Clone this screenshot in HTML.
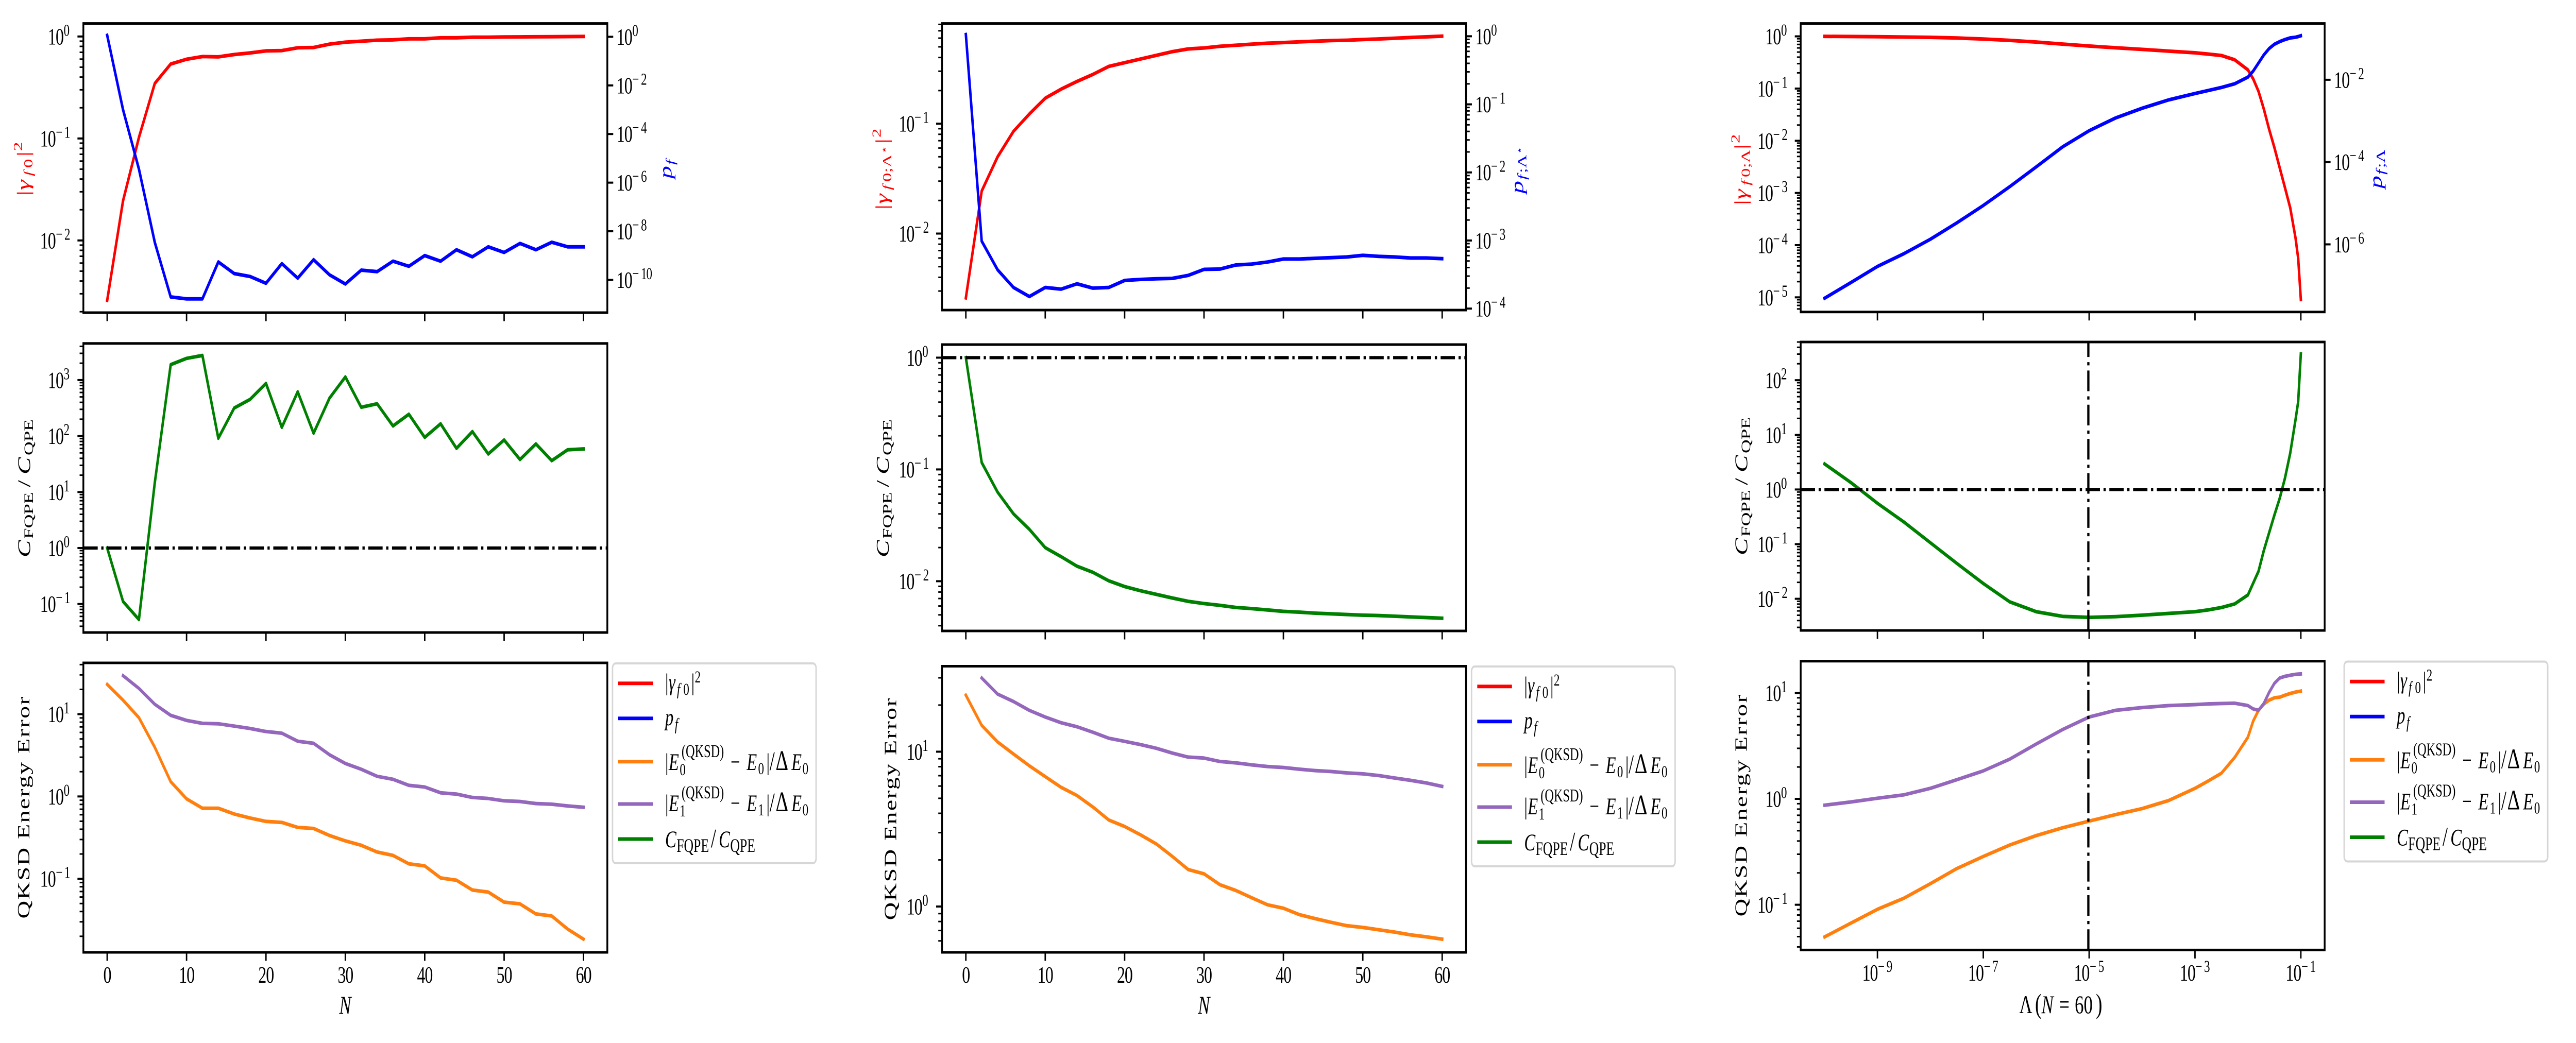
<!DOCTYPE html>
<html lang="en">
<head>
<meta charset="utf-8">
<title>FQPE and QKSD comparison</title>
<style>
html,body{margin:0;padding:0;background:#fff;width:100%;height:100%;overflow:hidden;}
svg{display:block;width:100vw;height:100vh;font-family:"Liberation Serif","DejaVu Serif",serif;}
</style>
</head>
<body>
<svg id="figure" viewBox="0 0 7200 2025" preserveAspectRatio="none"></svg>
<script>
const nValues = [0,2,4,6,8,10,12,14,16,18,20,22,24,26,28,30,32,34,36,38,40,42,44,46,48,50,52,54,56,58,60];
const nTicks = [0,10,20,30,40,50,60];
const lambdaLog10 = [-10,-9.5,-9,-8.5,-8,-7.5,-7,-6.5,-6,-5.5,-5,-4.5,-4,-3.5,-3,-2.75,-2.5,-2.25,-2,-1.9,-1.8,-1.7,-1.6,-1.5,-1.4,-1.3,-1.2,-1.1,-1.05,-1];
const lambdaTicks = [-9,-7,-5,-3,-1];
const lambdaStarLog10 = -5.015;
const unitRatioLog10 = 0;

/* Column 1 */
const c1Overlap = [-2.587,-1.611,-0.99,-0.46,-0.27,-0.223,-0.197,-0.2,-0.177,-0.161,-0.141,-0.138,-0.111,-0.108,-0.075,-0.056,-0.046,-0.036,-0.033,-0.023,-0.023,-0.013,-0.013,-0.007,-0.007,-0.005,-0.004,-0.003,-0.002,-0.001,0];
const c1Prob = [0.06,-3.0,-5.44,-8.46,-10.7,-10.78,-10.78,-9.26,-9.74,-9.86,-10.14,-9.33,-9.93,-9.17,-9.79,-10.17,-9.6,-9.66,-9.23,-9.44,-9.0,-9.23,-8.76,-9.05,-8.64,-8.87,-8.5,-8.76,-8.45,-8.64,-8.64];
const c1Ratio = [0,-0.954,-1.278,1.17,3.275,3.387,3.44,1.96,2.5,2.655,2.94,2.155,2.79,2.05,2.676,3.056,2.514,2.577,2.18,2.39,1.976,2.22,1.78,2.08,1.68,1.93,1.58,1.86,1.56,1.755,1.77];
const c1ErrE0 = [1.362,1.17,0.957,0.597,0.18,-0.029,-0.143,-0.143,-0.213,-0.262,-0.303,-0.315,-0.376,-0.389,-0.474,-0.54,-0.593,-0.675,-0.716,-0.818,-0.843,-0.99,-1.018,-1.137,-1.162,-1.284,-1.305,-1.427,-1.452,-1.611,-1.734];
const c1ErrE1 = [null,1.468,1.313,1.12,0.986,0.924,0.888,0.883,0.855,0.826,0.789,0.769,0.671,0.646,0.507,0.401,0.331,0.245,0.209,0.135,0.115,0.045,0.029,-0.012,-0.025,-0.053,-0.061,-0.086,-0.094,-0.115,-0.131];
const c1OverlapTicks = [0,-1,-2];
const c1ProbTicks = [0,-2,-4,-6,-8,-10];
const c1RatioTicks = [3,2,1,0,-1];
const c1ErrTicks = [1,0,-1];

/* Column 2 */
const c2Overlap = [-2.585,-1.613,-1.302,-1.07,-0.912,-0.768,-0.686,-0.616,-0.552,-0.479,-0.445,-0.412,-0.378,-0.345,-0.32,-0.311,-0.296,-0.287,-0.277,-0.268,-0.262,-0.256,-0.25,-0.244,-0.241,-0.235,-0.229,-0.223,-0.216,-0.21,-0.204];
const c2Prob = [0.025,-3.01,-3.43,-3.69,-3.823,-3.69,-3.715,-3.636,-3.7,-3.69,-3.587,-3.572,-3.562,-3.557,-3.513,-3.424,-3.42,-3.36,-3.346,-3.316,-3.272,-3.272,-3.262,-3.252,-3.242,-3.218,-3.233,-3.242,-3.257,-3.257,-3.267];
const c2Ratio = [0,-0.938,-1.203,-1.397,-1.536,-1.7,-1.78,-1.866,-1.92,-1.996,-2.048,-2.085,-2.118,-2.15,-2.18,-2.2,-2.216,-2.235,-2.245,-2.257,-2.27,-2.277,-2.286,-2.292,-2.298,-2.304,-2.307,-2.313,-2.319,-2.325,-2.331];
const c2ErrE0 = [1.365,1.17,1.063,0.985,0.909,0.839,0.77,0.717,0.643,0.559,0.517,0.463,0.404,0.324,0.239,0.211,0.141,0.104,0.057,0.011,-0.011,-0.052,-0.078,-0.102,-0.124,-0.135,-0.15,-0.165,-0.183,-0.196,-0.211];
const c2ErrE1 = [null,1.476,1.372,1.324,1.267,1.224,1.187,1.161,1.126,1.087,1.067,1.046,1.022,0.991,0.965,0.959,0.937,0.928,0.915,0.904,0.898,0.887,0.878,0.872,0.863,0.857,0.846,0.83,0.815,0.798,0.776];
const c2OverlapTicks = [-1,-2];
const c2ProbTicks = [0,-1,-2,-3,-4];
const c2RatioTicks = [0,-1,-2];
const c2ErrTicks = [1,0];

/* Column 3 */
const c3Overlap = [0,-0.003,-0.006,-0.013,-0.019,-0.032,-0.051,-0.077,-0.109,-0.148,-0.186,-0.218,-0.25,-0.282,-0.315,-0.34,-0.366,-0.449,-0.642,-0.815,-1.053,-1.39,-1.778,-2.13,-2.516,-2.9,-3.286,-3.864,-4.25,-5.04];
const c3Prob = [-7.31,-6.927,-6.536,-6.226,-5.876,-5.477,-5.054,-4.598,-4.117,-3.629,-3.238,-2.928,-2.692,-2.489,-2.334,-2.26,-2.187,-2.098,-1.935,-1.788,-1.593,-1.397,-1.241,-1.137,-1.072,-1.023,-0.982,-0.966,-0.95,-0.93];
const c3Ratio = [0.469,0.126,-0.252,-0.595,-0.974,-1.352,-1.72,-2.056,-2.236,-2.322,-2.34,-2.326,-2.3,-2.268,-2.236,-2.203,-2.16,-2.095,-1.93,-1.713,-1.497,-1.118,-0.793,-0.469,-0.162,0.209,0.667,1.28,1.605,2.481];
const c3ErrE0 = [-1.304,-1.173,-1.043,-0.938,-0.801,-0.658,-0.544,-0.436,-0.347,-0.273,-0.21,-0.149,-0.092,-0.016,0.099,0.169,0.242,0.391,0.582,0.735,0.836,0.894,0.932,0.954,0.96,0.979,0.995,1.008,1.013,1.017];
const c3ErrE1 = [-0.06,-0.029,0.006,0.038,0.099,0.181,0.264,0.375,0.518,0.655,0.773,0.836,0.862,0.881,0.89,0.897,0.9,0.903,0.881,0.849,0.836,0.9,1.005,1.091,1.141,1.157,1.167,1.176,1.178,1.18];
const c3OverlapTicks = [0,-1,-2,-3,-4,-5];
const c3ProbTicks = [-2,-4,-6];
const c3RatioTicks = [2,1,0,-1,-2];
const c3ErrTicks = [1,0,-1];

const RED = '#ff0000', BLUE = '#0000ff', GREEN = '#008000', ORANGE = '#ff7f0e', PURPLE = '#9467bd';
const root = document.getElementById('figure');
const ns = root.namespaceURI;

function node(parent, tag, attrs, name) {
  const el = document.createElementNS(ns, tag);
  for (const k in attrs) el.setAttribute(k, attrs[k]);
  
  
  parent.appendChild(el);
  return el;
}
function linearScale(d0, d1, r0, r1) {
  return v => r0 + (v - d0) / (d1 - d0) * (r1 - r0);
}
function mathText(parent, name, tx, ty, rotated, color, parts) {
  const t = node(parent, 'text', {
    transform: 'translate(' + tx + ' ' + ty + ')' + (rotated ? ' rotate(-90)' : ''),
    fill: color
  }, name);
  for (const p of parts) {
    const sp = document.createElementNS(ns, 'tspan');
    sp.setAttribute('x', p[1]);
    sp.setAttribute('y', p[2]);
    sp.setAttribute('font-size', p[3]);
    if (p[4]) sp.setAttribute('font-style', 'italic');
    sp.textContent = p[0];
    t.appendChild(sp);
  }
  return t;
}
function powerLabel(parent, name, x, baseline, exp, mode) {
  const expStr = String(Math.abs(exp));
  const supW = exp < 0 ? (expStr.length > 1 ? 59 : 42) : 20;
  const total = 43 + supW;
  const start = mode === 'right' ? x - total : mode === 'center' ? x - total / 2 : x;
  const parts = [['10', 0, 0, 46]];
  if (exp < 0) {
    parts.push(['\u2212', 44, -17, 33]);
    parts.push([expStr, 68, -17, 33]);
  } else {
    parts.push([expStr, 44, -17, 33]);
  }
  const t = mathText(parent, name, start, baseline, false, '#000', parts);
  t.setAttribute('letter-spacing', '-1.5');
  return t;
}
function drawSeries(g, xs, ys, xf, yf, color, name) {
  const pts = [];
  xs.forEach((x, i) => { if (ys[i] !== null) pts.push(xf(x).toFixed(1) + ',' + yf(ys[i]).toFixed(1)); });
  return node(g, 'polyline', {
    points: pts.join(' '), fill: 'none', stroke: color, 'stroke-width': 7,
    'stroke-linejoin': 'round', 'stroke-linecap': 'square'
  }, name);
}
function dashLine(g, x1, y1, x2, y2, name) {
  return node(g, 'line', {
    x1: x1, y1: y1, x2: x2, y2: y2, stroke: '#000', 'stroke-width': 6.26,
    'stroke-dasharray': '40.1 10 6.26 10'
  }, name);
}
function yAxis(g, box, ylim, ticks, side, minor, prefix) {
  const yf = linearScale(ylim[0], ylim[1], box.bottom, box.top);
  const x0 = side === 'left' ? box.L : box.R;
  const dir = side === 'left' ? -1 : 1;
  if (minor) {
    for (let d = Math.floor(ylim[0]); d < Math.ceil(ylim[1]); d++) {
      for (let m = 2; m <= 9; m++) {
        const v = d + Math.log10(m);
        if (v < ylim[0] || v > ylim[1]) continue;
        node(g, 'line', { x1: x0, x2: x0 + dir * 10.5, y1: yf(v), y2: yf(v), stroke: '#000', 'stroke-width': 3 }, prefix + '-minor-tick');
      }
    }
  }
  ticks.forEach(e => {
    node(g, 'line', { x1: x0, x2: x0 + dir * 16.5, y1: yf(e), y2: yf(e), stroke: '#000', 'stroke-width': 4 }, prefix + '-major-tick');
    if (side === 'left') powerLabel(g, prefix + '-tick-label', box.L - 36, yf(e) + 15.5, e, 'right');
    else powerLabel(g, prefix + '-tick-label', box.R + 26, yf(e) + 15.5, e, 'left');
  });
  return yf;
}
function xAxis(g, box, xf, ticks, labelMode, prefix) {
  ticks.forEach(v => {
    const x = xf(v);
    node(g, 'line', { x1: x, x2: x, y1: box.bottom, y2: box.bottom + 16.5, stroke: '#000', 'stroke-width': 4 }, prefix + '-x-major-tick');
    if (labelMode === 'linear') {
      node(g, 'text', { x: x, y: 1908, 'font-size': 46, 'text-anchor': 'middle', 'letter-spacing': '-1.5', fill: '#000' }, prefix + '-x-tick-label').textContent = String(v);
    } else if (labelMode === 'log') {
      powerLabel(g, prefix + '-x-tick-label', x, 1904, v, 'center');
    }
  });
}
function frame(g, box, name) {
  node(g, 'rect', { x: box.L, y: box.top, width: box.R - box.L, height: box.bottom - box.top, fill: 'none', stroke: '#000', 'stroke-width': 5 }, name);
}

const GAMMA_F0 = [['|',0,0,50],['\u03b3',11,0,50,1],['f',38,9,35,1],['0',54,9,35],['|',76,0,50],['2',87,-20,35]];
const GAMMA_STAR = [['|',0,0,50],['\u03b3',11,0,50,1],['f',38,9,35,1],['0',54,9,35],[';',72,9,35],['\u039b',82,9,35],['\u22c6',108,-2,26],['|',128,0,50],['2',140,-20,35]];
const GAMMA_LAM = [['|',0,0,50],['\u03b3',11,0,50,1],['f',38,9,35,1],['0',54,9,35],[';',72,9,35],['\u039b',82,9,35],['|',108,0,50],['2',120,-20,35]];
const P_F = [['p',0,0,50,1],['f',27,9,35,1]];
const P_STAR = [['p',0,0,50,1],['f',27,9,35,1],[';',40,9,35],['\u039b',50,9,35],['\u22c6',76,-2,26]];
const P_LAM = [['p',0,0,50,1],['f',27,9,35,1],[';',40,9,35],['\u039b',50,9,35]];
const RATIO = [['C',0,0,50,1],['FQPE',36,8,37],['/',136,0,50],['C',161,0,50,1],['QPE',198,8,37]];

function legend(x, y, prefix) {
  const g = node(root, 'g', { transform: 'translate(' + x + ' ' + y + ')' }, prefix + '-legend');
  node(g, 'rect', { x: 2, y: 2, width: 569, height: 388, rx: 9, fill: '#fff', stroke: '#d6d6d6', 'stroke-width': 4 }, 'legend-frame');
  const rows = [
    [RED, 40.7, 54, 'overlap', [['|',0,0,47],['\u03b3',10,0,47,1],['f',33,9,33,1],['0',51,9,33],['|',73,0,47],['2',83,-15,33]]],
    [BLUE, 108.7, 122, 'probability', [['p',0,0,47,1],['f',27,9,33,1]]],
    [ORANGE, 192.7, 209, 'e0-error', [['|',0,0,47],['E',10,0,47,1],['(QKSD)',46,-25,35],['0',41,10,33],['\u2212',183,0,47],['E',228,0,47,1],['0',260,8,33],['|',283,0,47],['/',292,0,52],['\u0394',309,0,55],['E',353,0,47,1],['0',384,8,33]]],
    [PURPLE, 275, 289, 'e1-error', [['|',0,0,47],['E',10,0,47,1],['(QKSD)',46,-25,35],['1',41,10,33],['\u2212',183,0,47],['E',228,0,47,1],['1',260,8,33],['|',283,0,47],['/',292,0,52],['\u0394',309,0,55],['E',353,0,47,1],['0',384,8,33]]],
    [GREEN, 343, 359, 'cost-ratio', [['C',0,0,47,1],['FQPE',32,9,37],['/',128,0,52],['C',150,0,47,1],['QPE',182,9,37]]]
  ];
  rows.forEach(r => {
    node(g, 'line', { x1: 18, x2: 115, y1: r[1], y2: r[1], stroke: r[0], 'stroke-width': 7 }, r[3] + '-legend-handle');
    mathText(g, r[3] + '-legend-label', 149, r[2], false, '#000', r[4]);
  });
}

/* Column layouts */
const L1 = 233, R1 = 1697.5, L2 = 2633, R2 = 4097.5, L3 = 5033, R3 = 6497.5;
const xN1 = linearScale(-3, 63, L1, R1);
const xN2 = linearScale(-3, 63, L2, R2);
const xL3 = linearScale(-10.45, -0.55, L3, R3);

function column(cfg) {
  const g = node(root, 'g', {}, cfg.id);
  const top = node(g, 'g', {}, cfg.id + '-overlap-axes');
  const yTop = linearScale(cfg.topLim[0], cfg.topLim[1], cfg.topBox.bottom, cfg.topBox.top);
  const yRight = linearScale(cfg.rightLim[0], cfg.rightLim[1], cfg.topBox.bottom, cfg.topBox.top);
  drawSeries(top, cfg.xs, cfg.overlap, cfg.xf, yTop, RED, 'overlap-line');
  drawSeries(top, cfg.xs, cfg.prob, cfg.xf, yRight, BLUE, 'probability-line');
  yAxis(top, cfg.topBox, cfg.topLim, cfg.overlapTicks, 'left', true, 'overlap-y');
  yAxis(top, cfg.topBox, cfg.rightLim, cfg.probTicks, 'right', cfg.rightMinor, 'probability-y');
  xAxis(top, cfg.topBox, cfg.xf, cfg.xTicks, 'none', 'overlap');
  frame(top, cfg.topBox, 'overlap-axes-frame');

  const mid = node(g, 'g', {}, cfg.id + '-cost-ratio-axes');
  const yMid = linearScale(cfg.midLim[0], cfg.midLim[1], cfg.midBox.bottom, cfg.midBox.top);
  drawSeries(mid, cfg.xs, cfg.ratio, cfg.xf, yMid, GREEN, 'cost-ratio-line');
  dashLine(mid, cfg.midBox.L, yMid(unitRatioLog10), cfg.midBox.R, yMid(unitRatioLog10), 'unit-ratio-line');
  if (cfg.vline) dashLine(mid, cfg.xf(lambdaStarLog10), cfg.midBox.bottom, cfg.xf(lambdaStarLog10), cfg.midBox.top, 'lambda-star-line');
  yAxis(mid, cfg.midBox, cfg.midLim, cfg.ratioTicks, 'left', true, 'cost-ratio-y');
  xAxis(mid, cfg.midBox, cfg.xf, cfg.xTicks, 'none', 'cost-ratio');
  frame(mid, cfg.midBox, 'cost-ratio-axes-frame');

  const bot = node(g, 'g', {}, cfg.id + '-energy-error-axes');
  const yBot = linearScale(cfg.botLim[0], cfg.botLim[1], cfg.botBox.bottom, cfg.botBox.top);
  drawSeries(bot, cfg.xs, cfg.e0, cfg.xf, yBot, ORANGE, 'e0-error-line');
  drawSeries(bot, cfg.xs, cfg.e1, cfg.xf, yBot, PURPLE, 'e1-error-line');
  if (cfg.vline) dashLine(bot, cfg.xf(lambdaStarLog10), cfg.botBox.bottom, cfg.xf(lambdaStarLog10), cfg.botBox.top, 'lambda-star-line');
  yAxis(bot, cfg.botBox, cfg.botLim, cfg.errTicks, 'left', true, 'energy-error-y');
  xAxis(bot, cfg.botBox, cfg.xf, cfg.xTicks, cfg.xMode, 'energy-error');
  frame(bot, cfg.botBox, 'energy-error-axes-frame');
}

column({
  id: 'column-n-fixed-lambda', xs: nValues, xf: xN1, xTicks: nTicks, xMode: 'linear', rightMinor: false,
  overlap: c1Overlap, prob: c1Prob, ratio: c1Ratio, e0: c1ErrE0, e1: c1ErrE1,
  overlapTicks: c1OverlapTicks, probTicks: c1ProbTicks, ratioTicks: c1RatioTicks, errTicks: c1ErrTicks,
  topBox: { L: L1, R: R1, top: 45.6, bottom: 607 }, topLim: [-2.708, 0.1275], rightLim: [-11.347, 0.547],
  midBox: { L: L1, R: R1, top: 666.8, bottom: 1228 }, midLim: [-1.509, 3.654],
  botBox: { L: L1, R: R1, top: 1287, bottom: 1849 }, botLim: [-1.894, 1.623]
});
column({
  id: 'column-n-optimal-lambda', xs: nValues, xf: xN2, xTicks: nTicks, xMode: 'linear', rightMinor: true,
  overlap: c2Overlap, prob: c2Prob, ratio: c2Ratio, e0: c2ErrE0, e1: c2ErrE1,
  overlapTicks: c2OverlapTicks, probTicks: c2ProbTicks, ratioTicks: c2RatioTicks, errTicks: c2ErrTicks,
  topBox: { L: L2, R: R2, top: 45.6, bottom: 602 }, topLim: [-2.696, -0.0886], rightLim: [-4.022, 0.1876],
  midBox: { L: L2, R: R2, top: 669, bottom: 1225 }, midLim: [-2.445, 0.117],
  botBox: { L: L2, R: R2, top: 1293.5, bottom: 1849 }, botLim: [-0.296, 1.552]
});
column({
  id: 'column-lambda-sweep', xs: lambdaLog10, xf: xL3, xTicks: lambdaTicks, xMode: 'log', rightMinor: false, vline: true,
  overlap: c3Overlap, prob: c3Prob, ratio: c3Ratio, e0: c3ErrE0, e1: c3ErrE1,
  overlapTicks: c3OverlapTicks, probTicks: c3ProbTicks, ratioTicks: c3RatioTicks, errTicks: c3ErrTicks,
  topBox: { L: L3, R: R3, top: 45.6, bottom: 605.7 }, topLim: [-5.28, 0.2465], rightLim: [-7.643, -0.632],
  midBox: { L: L3, R: R3, top: 664, bottom: 1224 }, midLim: [-2.579, 2.699],
  botBox: { L: L3, R: R3, top: 1283.7, bottom: 1844.4 }, botLim: [-1.427, 1.3]
});

/* Axis titles */
mathText(root, 'overlap-y-title', 82, 380, true, RED, GAMMA_F0);
mathText(root, 'overlap-y-title', 2482, 407, true, RED, GAMMA_STAR);
mathText(root, 'overlap-y-title', 4882, 398, true, RED, GAMMA_LAM);
mathText(root, 'probability-y-title', 1877, 347, true, BLUE, P_F);
mathText(root, 'probability-y-title', 4257, 376, true, BLUE, P_STAR);
mathText(root, 'probability-y-title', 6657, 366, true, BLUE, P_LAM);
mathText(root, 'cost-ratio-y-title', 84, 1082, true, '#000', RATIO);
mathText(root, 'cost-ratio-y-title', 2484, 1082, true, '#000', RATIO);
mathText(root, 'cost-ratio-y-title', 4884, 1078, true, '#000', RATIO);

[[82, 1568], [2505, 1571], [4882, 1564]].forEach(p => {
  const t = node(root, 'text', {
    transform: 'translate(' + p[0] + ' ' + p[1] + ') rotate(-90)',
    'font-size': 48, 'text-anchor': 'middle', textLength: 431, lengthAdjust: 'spacing', fill: '#000'
  }, 'energy-error-y-title');
  t.textContent = 'QKSD Energy Error';
});

[965, 3365].forEach(x => {
  const t = node(root, 'text', { x: x, y: 1968, 'font-size': 50, 'font-style': 'italic', 'text-anchor': 'middle', fill: '#000' }, 'n-x-title');
  t.textContent = 'N';
});
mathText(root, 'lambda-x-title', 5644, 1967, false, '#000', [['\u039b',0,0,50],['(',44,0,54],['N',62,0,50,1],['=',112,0,50],['60',155,0,50],[')',214,0,54]]);

legend(1710, 1286, 'column-n-fixed-lambda');
legend(4111, 1292, 'column-n-optimal-lambda');
legend(6550, 1282.5, 'column-lambda-sweep');
</script>
</body>
</html>
